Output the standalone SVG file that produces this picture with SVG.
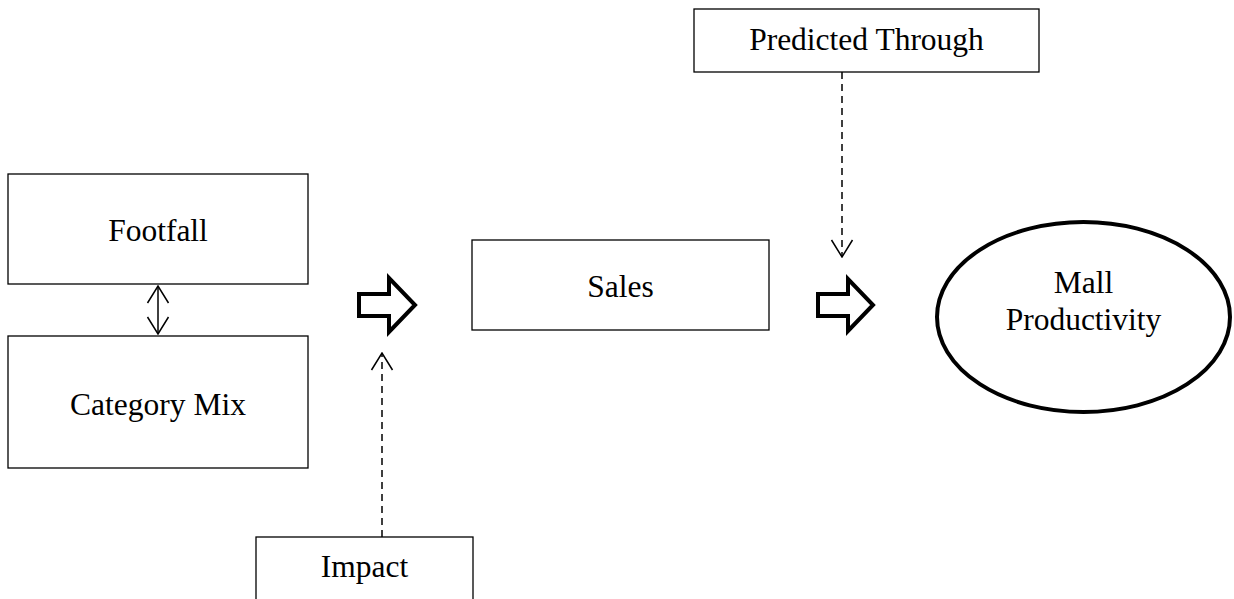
<svg xmlns="http://www.w3.org/2000/svg" width="1234" height="599" viewBox="0 0 1234 599">
<defs>
<style>
.box{fill:#fff;stroke:#000;stroke-width:1.3}
.t{font-family:"Liberation Serif","Times New Roman",serif;font-size:31.5px;fill:#000;text-anchor:middle}
.dash{fill:none;stroke:#000;stroke-width:1.5;stroke-dasharray:7 5}
.line{fill:none;stroke:#000;stroke-width:1.5}
.hollow{fill:#fff;stroke:#000;stroke-width:4;stroke-linejoin:miter}
</style>
<marker id="open" viewBox="0 0 20 24" refX="19" refY="12" markerWidth="20" markerHeight="24" markerUnits="userSpaceOnUse" orient="auto-start-reverse">
<path d="M2,1.5 L19,12 L2,22.5" fill="none" stroke="#000" stroke-width="1.5"/>
</marker>
</defs>
<rect width="1234" height="599" fill="#fff"/>
<g id="footfall"><rect class="box" x="8" y="174" width="300" height="110"/><text class="t" x="158" y="241">Footfall</text></g>
<g id="category-mix"><rect class="box" x="8" y="336" width="300" height="132"/><text class="t" x="158" y="415">Category Mix</text></g>
<g id="sales"><rect class="box" x="472" y="240" width="297" height="90"/><text class="t" x="620.5" y="297">Sales</text></g>
<g id="predicted-through"><rect class="box" x="694" y="9" width="345" height="63"/><text class="t" x="866.5" y="50">Predicted Through</text></g>
<g id="impact"><rect class="box" x="256" y="537" width="217" height="70"/><text class="t" x="364.5" y="577">Impact</text></g>
<g id="mall-productivity"><ellipse cx="1083.5" cy="317" rx="146.5" ry="95" fill="#fff" stroke="#000" stroke-width="4"/><text class="t" x="1083.5" y="293">Mall</text><text class="t" x="1083.5" y="330">Productivity</text></g>
<g id="connectors">
<line class="line" x1="158" y1="286" x2="158" y2="334" marker-start="url(#open)" marker-end="url(#open)"/>
<line class="dash" x1="842" y1="72" x2="842" y2="257" marker-end="url(#open)"/>
<line class="dash" x1="382" y1="537" x2="382" y2="353" marker-end="url(#open)"/>
<path class="hollow" d="M359,294 L389,294 L389,278 L415,305 L389,332 L389,316 L359,316 Z"/>
<path class="hollow" d="M818,294 L848,294 L848,279 L873,305 L848,331 L848,316 L818,316 Z"/>
</g>
</svg>
